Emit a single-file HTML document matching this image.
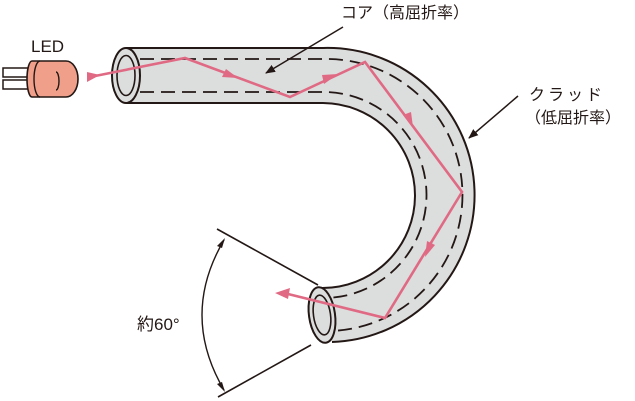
<!DOCTYPE html>
<html><head><meta charset="utf-8"><style>
html,body{margin:0;padding:0;background:#fff;}
svg{display:block}
text{font-family:"Liberation Sans","Noto Sans CJK JP",sans-serif;fill:#231815;}
</style></head><body>
<svg width="635" height="401" viewBox="0 0 635 401" xmlns="http://www.w3.org/2000/svg">
<defs>
<marker id="ah" markerWidth="10" markerHeight="8" refX="9" refY="4" orient="auto" markerUnits="userSpaceOnUse"><path d="M0,0 L10,4 L0,8 z" fill="#231815"/></marker>
</defs>
<path d="M126,48 L323,48 A147,147 0 0 1 332,342 L322,288 A92,92 0 0 0 323,103 L126,103 Z" fill="#dcdddd" stroke="none"/>
<path d="M126,48 L323,48 A147,147 0 0 1 332,342" fill="none" stroke="#231815" stroke-width="2"/>
<path d="M126,103 L323,103 A92,92 0 0 1 322,288" fill="none" stroke="#231815" stroke-width="2"/>
<path d="M140,59 L323,59 A136,136 0 0 1 330,331" fill="none" stroke="#231815" stroke-width="1.8" stroke-dasharray="14,7"/>
<path d="M140,92 L323,92 A103,103 0 0 1 324,298" fill="none" stroke="#231815" stroke-width="1.8" stroke-dasharray="14,7"/>
<ellipse cx="126" cy="75.5" rx="14" ry="27.5" fill="#dcdddd" stroke="#231815" stroke-width="2"/>
<ellipse cx="126" cy="75.5" rx="9" ry="20" fill="#dcdddd" stroke="#231815" stroke-width="1.6"/>
<ellipse cx="322" cy="315" rx="13" ry="28" fill="#dcdddd" stroke="#231815" stroke-width="2" transform="rotate(-8 322 315)"/>
<ellipse cx="322" cy="315" rx="8.5" ry="20" fill="#dcdddd" stroke="#231815" stroke-width="1.6" transform="rotate(-8 322 315)"/>
<!-- LED -->
<rect x="3" y="68" width="28" height="9" fill="#fff" stroke="#231815" stroke-width="1.5"/>
<rect x="3" y="80" width="28" height="9" fill="#fff" stroke="#231815" stroke-width="1.5"/>
<path d="M32,61 L66,61 A12,18 0 0 1 66,97 L32,97 A5,18 0 0 1 32,61 Z" fill="#f0a08a" stroke="#231815" stroke-width="1.6"/>
<path d="M40,61 A6,18 0 0 0 40,97" fill="none" stroke="#231815" stroke-width="1.4"/>
<path d="M56,72 A3,9 0 0 1 56,90" fill="none" stroke="#231815" stroke-width="1.4"/>
<!-- ray -->
<polyline points="95,76 185,58 290,97 365,62 462,192 385,318 288,294" fill="none" stroke="#e06a84" stroke-width="2.6" stroke-linejoin="miter"/>
<path d="M87,72 L87,82 L100,75 Z" fill="#e06a84"/>
<path d="M238,78 L222,77 L226,69 Z" fill="#e06a84"/>
<path d="M338,74 L324,84 L322,75 Z" fill="#e06a84"/>
<path d="M413,127 L403,115 L411,112 Z" fill="#e06a84"/>
<path d="M425,257 L427,241 L435,245 Z" fill="#e06a84"/>
<path d="M275,293 L290,288 L288,299 Z" fill="#e06a84"/>
<!-- angle -->
<line x1="217" y1="229" x2="318" y2="285" stroke="#231815" stroke-width="1.6"/>
<line x1="218" y1="397" x2="311" y2="345" stroke="#231815" stroke-width="1.6"/>
<path d="M224,240 Q180,315 224,390" fill="none" stroke="#231815" stroke-width="1.4"/>
<path d="M225,238 L217,246 L222,248 Z" fill="#231815"/>
<path d="M225,392 L217,384 L222,382 Z" fill="#231815"/>
<text x="137" y="330" font-size="17">約60°</text>
<text x="31" y="52" font-size="17">LED</text>
<text x="341" y="18" font-size="16">コア（高屈折率）</text>
<line x1="343" y1="27" x2="266" y2="73" stroke="#231815" stroke-width="1.5" marker-end="url(#ah)"/>
<text x="529" y="100" font-size="16" letter-spacing="3">クラッド</text>
<text x="525" y="123" font-size="16">（低屈折率）</text>
<line x1="518" y1="96" x2="469" y2="138" stroke="#231815" stroke-width="1.5" marker-end="url(#ah)"/>
</svg>
</body></html>
